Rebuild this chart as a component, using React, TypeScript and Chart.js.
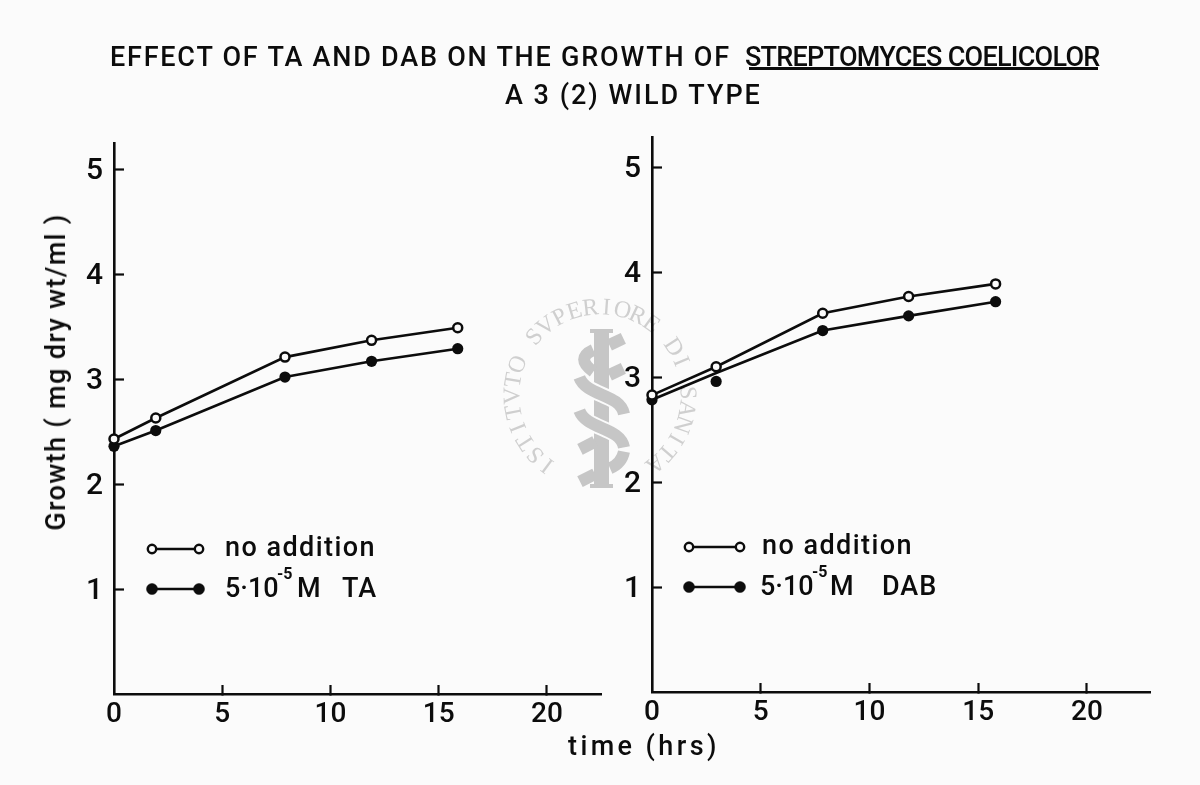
import React, { useEffect, useRef } from "react";
import { Chart, registerables } from "chart.js";

Chart.register(...registerables);

const leftHours = [0, 1.93, 7.9, 11.9, 15.88];
const leftNoAddition = [2.43, 2.63, 3.21, 3.37, 3.49];
const leftTA = [2.36, 2.51, 3.02, 3.17, 3.29];
const rightHours = [0, 2.95, 7.85, 11.8, 15.8];
const rightNoAddition = [2.83, 3.1, 3.61, 3.77, 3.89];
const rightDABLine = [2.785, 3.04, 3.445, 3.585, 3.72];
const rightDABMarkerHours = [0, 2.95, 7.85, 11.8, 15.8];
const rightDABMarkers = [2.785, 2.96, 3.445, 3.585, 3.72];
const xTicks = [0, 5, 10, 15, 20];
const yTicks = [1, 2, 3, 4, 5];
const titleStart = "EFFECT OF TA AND DAB ON THE GROWTH OF";
const titleSpecies = "STREPTOMYCES COELICOLOR";
const titleSecond = "A 3 (2) WILD TYPE";
const legendOpen = "no addition";
const legendLeft = ["5·10", "-5", "M", "TA"];
const legendRight = ["5·10", "-5", "M", "DAB"];
const yLabel = "Growth ( mg dry wt/ml )";
const xLabel = "time (hrs)";
const stampText = "ISTITVTO SVPERIORE DI SANITA";

const FONT = 'Roboto, "Liberation Sans", sans-serif';
const INK = "#0c0c0c";
const PAPER = "#fbfbfb";

function pts(xs: number[], ys: number[]) {
  return xs.map((x, i) => ({ x, y: ys[i] }));
}

function PanelChart(props: any) {
  const ref = useRef<HTMLCanvasElement>(null);
  useEffect(() => {
    const legendPlugin = {
      id: "handLegend",
      afterDraw(c: any) {
        const g = c.ctx;
        const [x0, x1] = props.legendX;
        const rows = props.legendY;
        g.save();
        rows.forEach((y: number, i: number) => {
          g.strokeStyle = INK; g.lineWidth = 2.4;
          g.beginPath(); g.moveTo(x0, y); g.lineTo(x1, y); g.stroke();
          [x0, x1].forEach((x: number) => {
            g.beginPath(); g.arc(x, y, i === 0 ? 4.2 : 5.5, 0, Math.PI * 2);
            g.fillStyle = i === 0 ? PAPER : INK; g.fill();
            g.lineWidth = i === 0 ? 2.4 : 0.5; g.stroke();
          });
        });
        g.fillStyle = INK; g.textBaseline = "alphabetic"; g.textAlign = "left";
        const tx = props.legendTextX;
        g.font = `500 27px ${FONT}`; g.letterSpacing = "1.45px";
        g.fillText(legendOpen, tx + props.legendOpenShift, rows[0] + 7);
        g.letterSpacing = "0px";
        g.fillText(props.legend[0], tx, rows[1] + 8);
        g.font = `700 16px ${FONT}`;
        g.fillText(props.legend[1], tx + 52, rows[1] - 10);
        g.font = `500 27px ${FONT}`;
        g.fillText(props.legend[2], tx + props.legendMOffset, rows[1] + 8);
        g.letterSpacing = "1px";
        g.fillText(props.legend[3], tx + props.legendWordOffset, rows[1] + 8);
        g.restore();
      },
    };
    const stampPlugin = {
      id: "stamp",
      beforeDraw(c: any) {
        if (!props.stamp) return;
        const g = c.ctx;
        const zx = (v: number) => 480 + v / 3;
        const zy = (v: number) => 290 + v / 3;
        g.save();
        g.fillStyle = "#cfcfcf"; g.font = `24px "Liberation Serif", serif`; g.textAlign = "center"; g.textBaseline = "middle";
        const start = 2.21, step = 0.184;
        stampText.split("").forEach((ch: string, i: number) => {
          const a = start + i * step;
          g.save(); g.translate(600 + 87 * Math.cos(a), 395 + 87 * Math.sin(a)); g.rotate(a + Math.PI / 2);
          g.fillText(ch, 0, 0); g.restore();
        });
        g.fillStyle = "#c6c6c6";
        g.fillRect(594, 329, 15, 159);
        g.fillRect(590, 329, 23, 4);
        g.fillRect(590, 484, 23, 4);
        g.strokeStyle = "#c6c6c6"; g.lineWidth = 12; g.lineCap = "butt";
        const seg = (a: number, b: number, c2: number, d: number) => { g.beginPath(); g.moveTo(zx(a), zy(b)); g.lineTo(zx(c2), zy(d)); g.stroke(); };
        seg(430, 145, 388, 165);
        seg(430, 235, 388, 255);
        seg(300, 478, 345, 455);
        seg(300, 575, 345, 552);
        g.beginPath(); g.moveTo(zx(340), zy(180)); g.quadraticCurveTo(zx(285), zy(205), zx(340), zy(245)); g.stroke();
        g.beginPath(); g.moveTo(zx(390), zy(535)); g.quadraticCurveTo(zx(425), zy(520), zx(432), zy(485)); g.stroke();
        const s = (y0: number) => { g.beginPath(); g.moveTo(zx(298), zy(y0)); g.bezierCurveTo(zx(320), zy(y0 + 58), zx(420), zy(y0 + 48), zx(432), zy(y0 + 110)); g.stroke(); };
        g.strokeStyle = PAPER; g.lineWidth = 16; s(262); s(362);
        g.strokeStyle = "#c6c6c6"; g.lineWidth = 12; s(262); s(362);
        g.restore();
      },
    };
    const chart = new Chart(ref.current as HTMLCanvasElement, {
      type: "line",
      data: {
        datasets: [
          { label: "no addition", data: props.open, borderColor: INK, borderWidth: 2.6, pointBackgroundColor: PAPER, pointBorderColor: INK, pointBorderWidth: 2.5, pointRadius: 4.5, tension: 0 },
          { label: "treated line", data: props.filled, borderColor: INK, borderWidth: 2.6, pointRadius: 0, tension: 0 },
          { label: "treated markers", data: props.filledMarkers, showLine: false, pointBackgroundColor: INK, pointBorderColor: INK, pointBorderWidth: 0, pointRadius: 5.6 },
        ],
      },
      options: {
        animation: false, responsive: false, devicePixelRatio: 1,
        layout: { padding: { left: props.plotLeft - 60, top: props.plotTop, right: props.plotRight, bottom: 0 } },
        clip: false,
        plugins: { legend: { display: false }, tooltip: { enabled: false }, title: { display: false } },
        scales: {
          x: {
            type: "linear", min: 0, max: props.xMax,
            afterBuildTicks: (a: any) => { a.ticks = xTicks.map((v) => ({ value: v })); },
            afterFit: (a: any) => { a.height = props.bottomH; },
            grid: { drawOnChartArea: false, drawTicks: true, tickLength: -9, tickWidth: 2.2, tickColor: (t: any) => (t.tick.value === 0 ? "transparent" : INK) },
            border: { color: INK, width: 2.6 },
            ticks: { color: INK, font: { family: FONT, size: 28, weight: "500" }, padding: 13, maxRotation: 0 },
          },
          y: {
            type: "linear", min: 0, max: props.yMax,
            afterBuildTicks: (a: any) => { a.ticks = yTicks.map((v) => ({ value: v })); },
            afterFit: (a: any) => { a.width = 60; },
            grid: { drawOnChartArea: false, drawTicks: true, tickLength: -10, tickWidth: 2.2, tickColor: INK },
            border: { color: INK, width: 2.6 },
            ticks: { color: INK, font: { family: FONT, size: 30, weight: "500" }, padding: 21, labelOffset: 2 },
          },
        },
      },
      plugins: [stampPlugin, legendPlugin],
    } as any);
    return () => chart.destroy();
  }, []);
  return <canvas ref={ref} width={props.width} height={props.height} style={{ position: "absolute", left: props.left, top: props.top }} />;
}

const textStyle: any = { position: "absolute", fontSize: 27, fontWeight: 500, whiteSpace: "pre", lineHeight: "30px" };

export default function App() {
  return (
    <div style={{ position: "absolute", left: 0, top: 0, width: 1200, height: 785, background: PAPER, overflow: "hidden", color: INK, fontFamily: FONT }}>
      <PanelChart left={0} top={0} width={740} height={760} stamp open={pts(leftHours, leftNoAddition)} filled={pts(leftHours, leftTA)} filledMarkers={pts(leftHours, leftTA)} legend={legendLeft} legendOpenShift={0} legendMOffset={72} legendWordOffset={117} yMax={5.25} xMax={22.5} plotLeft={114} plotRight={139} plotTop={143} bottomH={66} legendX={[152, 199]} legendY={[549, 589]} legendTextX={225} />
      <PanelChart left={540} top={0} width={640} height={760} open={pts(rightHours, rightNoAddition)} filled={pts(rightHours, rightDABLine)} filledMarkers={pts(rightDABMarkerHours, rightDABMarkers)} legend={legendRight} legendOpenShift={2} legendMOffset={70} legendWordOffset={122} yMax={5.29} xMax={22.9} plotLeft={112} plotRight={30} plotTop={137} bottomH={68} legendX={[149, 200]} legendY={[547, 587]} legendTextX={220} />
      <div style={{ ...textStyle, left: 110, top: 42, letterSpacing: 1.78 }}>{titleStart}</div>
      <div style={{ ...textStyle, left: 745, top: 42, letterSpacing: -0.74 }}>{titleSpecies}</div>
      <div style={{ position: "absolute", left: 749, top: 67, width: 349, height: 3, background: INK }} />
      <div style={{ ...textStyle, left: 505, top: 80, letterSpacing: 2 }}>{titleSecond}</div>
      <div style={{ ...textStyle, left: 568, top: 731, letterSpacing: 3.4 }}>{xLabel}</div>
      <div style={{ ...textStyle, left: 56, top: 372, letterSpacing: 1.35, transform: "translate(-50%,-50%) rotate(-90deg)" }}>{yLabel}</div>
    </div>
  );
}
